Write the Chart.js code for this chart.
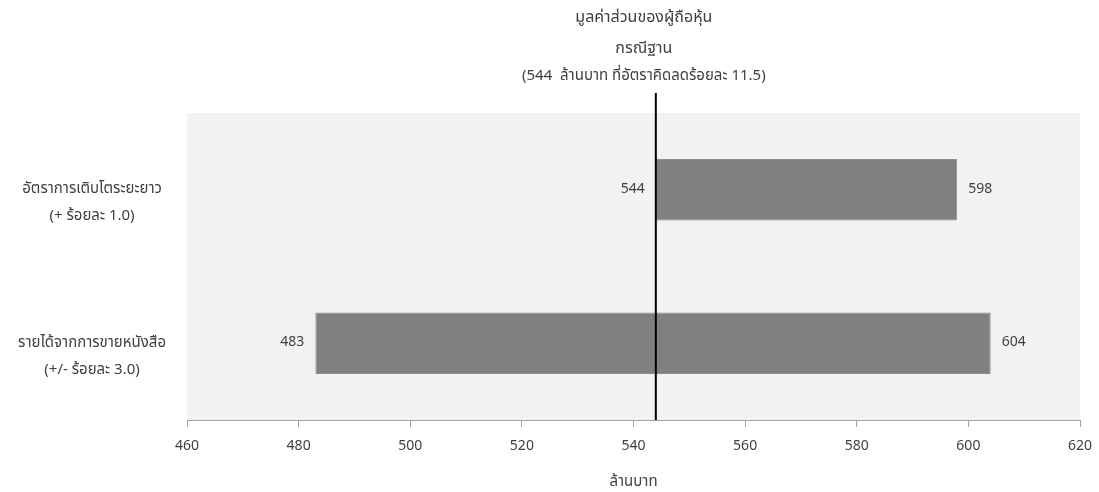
<!DOCTYPE html>
<html>
<head>
<meta charset="utf-8">
<script src="https://cdn.jsdelivr.net/npm/chart.js@4/dist/chart.umd.min.js"></script>
<style>
  html, body { margin: 0; padding: 0; background: #ffffff; }
  #wrap { width: 1099px; height: 492px; position: relative; }
</style>
</head>
<body>
<div id="wrap"><canvas id="chart"></canvas></div>
<script>
// Sensitivity of shareholder equity value (million baht)
const categories = [
  ["อัตราการเติบโตระยะยาว", "(+ ร้อยละ 1.0)"],
  ["รายได้จากการขายหนังสือ", "(+/- ร้อยละ 3.0)"]
];
const lowValues = [544, 483];
const highValues = [598, 604];
const baseValue = 544;
const titleLines = [
  "มูลค่าส่วนของผู้ถือหุ้น",
  "กรณีฐาน",
  "(544  ล้านบาท ที่อัตราคิดลดร้อยละ 11.5)"
];
const axisTitle = "ล้านบาท";
const xMin = 460, xMax = 620, xStep = 20;

const FONT = "'Noto Sans Thai', 'Noto Sans', 'Liberation Sans', sans-serif";
const TEXT = "#404040";

const ranges = categories.map((_, i) => [lowValues[i], highValues[i]]);

// grey plotting panel behind the bars
const panelPlugin = {
  id: "panel",
  beforeDatasetsDraw(chart) {
    const { ctx, chartArea: a } = chart;
    ctx.save();
    ctx.fillStyle = "#f2f2f2";
    ctx.fillRect(a.left, a.top, a.right - a.left, a.bottom - a.top);
    ctx.restore();
  }
};

// base-case marker line, its caption and the end-of-bar values
const overlayPlugin = {
  id: "overlay",
  afterDatasetsDraw(chart) {
    const { ctx, chartArea: a, scales } = chart;
    const x = scales.x.getPixelForValue(baseValue);
    ctx.save();
    ctx.strokeStyle = "#000000";
    ctx.lineWidth = 2;
    ctx.beginPath();
    ctx.moveTo(x, a.top - 20);
    ctx.lineTo(x, a.bottom);
    ctx.stroke();

    ctx.fillStyle = TEXT;
    ctx.textAlign = "center";
    ctx.textBaseline = "middle";
    const cx = x - 12;
    ctx.font = "16px " + FONT;
    ctx.fillText(titleLines[0], cx, 19);
    ctx.fillText(titleLines[1], cx, 50);
    ctx.font = "15px " + FONT;
    ctx.fillText(titleLines[2], cx, 77);

    const meta = chart.getDatasetMeta(0);
    ctx.font = "14px " + FONT;
    meta.data.forEach((bar, i) => {
      const y = bar.y;
      const xl = scales.x.getPixelForValue(lowValues[i]);
      const xr = scales.x.getPixelForValue(highValues[i]);
      ctx.textAlign = "right";
      ctx.fillText(String(lowValues[i]), xl - 11, y);
      ctx.textAlign = "left";
      ctx.fillText(String(highValues[i]), xr + 11, y);
    });
    ctx.restore();
  }
};

new Chart(document.getElementById("chart"), {
  type: "bar",
  data: {
    labels: categories,
    datasets: [{
      data: ranges,
      backgroundColor: "#808080",
      borderColor: "#8c8c8c",
      borderWidth: 1,
      borderSkipped: false,
      barPercentage: 0.4,
      categoryPercentage: 1.0
    }]
  },
  options: {
    indexAxis: "y",
    responsive: true,
    maintainAspectRatio: false,
    animation: false,
    layout: { padding: { top: 113, right: 19, left: 0, bottom: 0 } },
    plugins: {
      legend: { display: false },
      tooltip: { enabled: false }
    },
    scales: {
      x: {
        type: "linear",
        min: xMin,
        max: xMax,
        afterFit(scale) {
          scale.height = 72;
          scale.paddingLeft = 0;
          scale.paddingRight = 0;
        },
        border: { display: true, color: "#a0a0a0", width: 1 },
        grid: { drawOnChartArea: false, drawTicks: true, tickLength: 7, color: "#a0a0a0" },
        ticks: {
          stepSize: xStep,
          color: TEXT,
          padding: 12,
          font: { family: FONT, size: 14 }
        },
        title: {
          display: true,
          text: axisTitle,
          color: TEXT,
          padding: { top: 10, bottom: 0 },
          font: { family: FONT, size: 15 }
        }
      },
      y: {
        border: { display: false },
        grid: { display: false },
        afterFit(scale) { scale.width = 187; },
        ticks: {
          color: TEXT,
          crossAlign: "center",
          padding: 13,
          labelOffset: 14,
          font: { family: FONT, size: 15, lineHeight: 1.8 }
        }
      }
    }
  },
  plugins: [panelPlugin, overlayPlugin]
});
</script>
</body>
</html>
